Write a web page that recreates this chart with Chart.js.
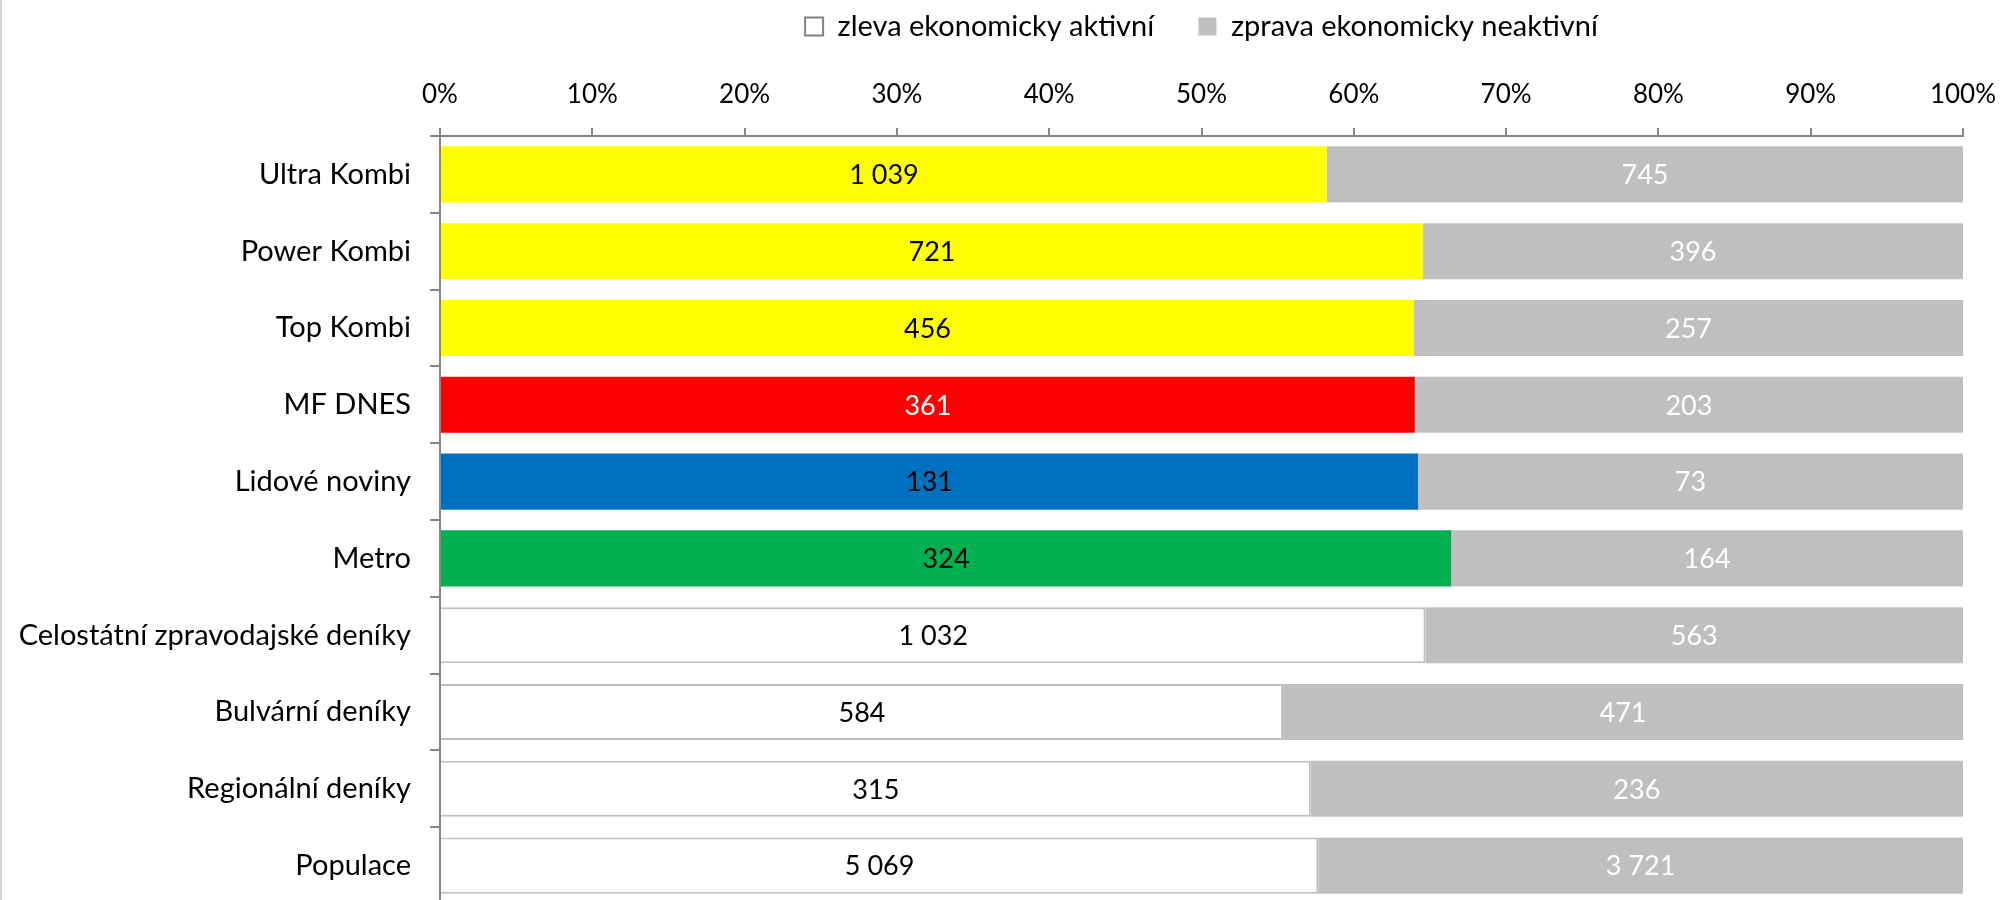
<!DOCTYPE html>
<html>
<head>
<meta charset="utf-8">
<script src="https://cdn.jsdelivr.net/npm/chart.js@4.4.0/dist/chart.umd.min.js"></script>
<style>
    html, body { margin: 0; padding: 0; background: #fff; overflow: hidden; }
    #wrap { position: relative; width: 2000px; height: 904px; border-left: 2px solid #d4d4d4; }
</style>
</head>
<body>
<div id="wrap"><canvas id="chart"></canvas></div>
<script>
// Kategorie (odshora dolů)
const categories = ['Ultra Kombi', 'Power Kombi', 'Top Kombi', 'MF DNES', 'Lidové noviny', 'Metro',
    'Celostátní zpravodajské deníky', 'Bulvární deníky', 'Regionální deníky', 'Populace'];
// Počty – ekonomicky aktivní / neaktivní
const aktivni = [1039, 721, 456, 361, 131, 324, 1032, 584, 315, 5069];
const neaktivni = [745, 396, 257, 203, 73, 164, 563, 471, 236, 3721];
const barColors = ['#FFFF00', '#FFFF00', '#FFFF00', '#FF0000', '#0070C0', '#00B050',
    '#FFFFFF', '#FFFFFF', '#FFFFFF', '#FFFFFF'];
const labelColorsAktivni = ['#000', '#000', '#000', '#fff', '#000', '#000', '#000', '#000', '#000', '#000'];
const legendLabels = ['zleva ekonomicky aktivní', 'zprava ekonomicky neaktivní'];
const FONT = 'Lato, "Open Sans", sans-serif';

// Procenta pro 100% skládaný graf
const pctAktivni = aktivni.map((v, i) => v / (v + neaktivni[i]) * 100);
const pctNeaktivni = neaktivni.map((v, i) => v / (aktivni[i] + v) * 100);

function fmt(n) {
    return String(n).replace(/\B(?=(\d{3})+(?!\d))/g, ' ');
}

// Popisky hodnot uprostřed segmentů
const valueLabels = {
    id: 'valueLabels',
    afterDatasetsDraw(chart) {
        const ctx = chart.ctx;
        ctx.save();
        ctx.font = '27px ' + FONT;
        ctx.textAlign = 'center';
        ctx.textBaseline = 'middle';
        chart.data.datasets.forEach((ds, di) => {
            const meta = chart.getDatasetMeta(di);
            meta.data.forEach((bar, i) => {
                const raw = di === 0 ? aktivni[i] : neaktivni[i];
                ctx.fillStyle = di === 0 ? labelColorsAktivni[i] : '#fff';
                ctx.fillText(fmt(raw), (bar.x + bar.base) / 2, bar.y + 1);
            });
        });
        ctx.restore();
    }
};

// Legenda vystředěná nad plochou grafu
const centerLegend = {
    id: 'centerLegend',
    afterLayout(chart) {
        const lg = chart.legend;
        const shift = (chart.chartArea.left + chart.chartArea.right) / 2 - (lg.left + lg.right) / 2;
        lg.left += shift;
        lg.right += shift;
    }
};

const ctx = document.getElementById('chart').getContext('2d');
new Chart(ctx, {
    type: 'bar',
    data: {
        labels: categories,
        datasets: [{
            label: legendLabels[0],
            data: pctAktivni,
            backgroundColor: barColors,
            borderColor: barColors.map(c => c === '#FFFFFF' ? '#BFBFBF' : c),
            borderWidth: barColors.map(c => c === '#FFFFFF' ? 2 : 0),
            borderSkipped: 'left',
            categoryPercentage: 1,
            barPercentage: 0.73
        }, {
            label: legendLabels[1],
            data: pctNeaktivni,
            backgroundColor: '#BFBFBF',
            borderWidth: 0,
            categoryPercentage: 1,
            barPercentage: 0.73
        }]
    },
    options: {
        indexAxis: 'y',
        responsive: true,
        maintainAspectRatio: false,
        animation: false,
        layout: { padding: { top: 4, right: 0, bottom: 0, left: 0 } },
        scales: {
            x: {
                position: 'top',
                stacked: true,
                min: 0,
                max: 100,
                ticks: {
                    stepSize: 10,
                    color: '#000',
                    font: { family: FONT, size: 26 },
                    padding: 18,
                    callback: v => v + '%'
                },
                grid: { drawOnChartArea: false, drawTicks: true, tickLength: 8, color: '#868686', lineWidth: 2 },
                border: { color: '#868686', width: 2 },
                afterFit(scale) {
                    scale.height = 85;
                    scale.paddingRight = 39;
                }
            },
            y: {
                stacked: true,
                ticks: {
                    color: '#000',
                    font: { family: FONT, size: 29 },
                    padding: 19
                },
                grid: { drawOnChartArea: false, drawTicks: true, tickLength: 10, color: '#868686', lineWidth: 2, offset: true },
                border: { color: '#868686', width: 2 },
                afterFit(scale) {
                    scale.width = 438;
                    scale.paddingTop = 0;
                    scale.paddingBottom = 0;
                }
            }
        },
        plugins: {
            legend: {
                position: 'top',
                labels: {
                    color: '#000',
                    font: { family: FONT, size: 29 },
                    boxWidth: 18,
                    boxHeight: 18,
                    padding: 8,
                    generateLabels(chart) {
                        return legendLabels.map((t, i) => ({
                            text: i === 0 ? t + '\u2003\u2002' : t,
                            fillStyle: i === 0 ? '#FFFFFF' : '#BFBFBF',
                            strokeStyle: i === 0 ? '#808080' : '#BFBFBF',
                            lineWidth: i === 0 ? 2 : 0,
                            datasetIndex: i
                        }));
                    }
                }
            },
            tooltip: { enabled: false }
        }
    },
    plugins: [valueLabels, centerLegend]
});
</script>
</body>
</html>
